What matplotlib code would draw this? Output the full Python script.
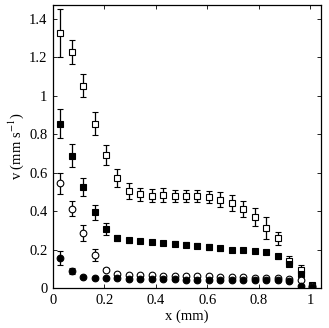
import matplotlib
matplotlib.use("Agg")
import matplotlib.pyplot as plt

x = [0.028, 0.073, 0.117, 0.162, 0.206, 0.251, 0.295, 0.340, 0.384, 0.429, 0.473, 0.518,
     0.562, 0.607, 0.651, 0.696, 0.740, 0.785, 0.829, 0.874, 0.918, 0.963, 1.007]

open_sq = [1.329, 1.229, 1.052, 0.855, 0.692, 0.574, 0.505, 0.487, 0.480, 0.484, 0.477, 0.477,
           0.477, 0.472, 0.460, 0.443, 0.411, 0.370, 0.313, 0.259, 0.143, 0.096, 0.015]
open_sq_err = [0.125, 0.064, 0.060, 0.059, 0.050, 0.046, 0.040, 0.035, 0.035, 0.035, 0.031, 0.031,
               0.031, 0.032, 0.040, 0.043, 0.040, 0.048, 0.058, 0.033, 0.026, 0.023, 0.010]

filled_sq = [0.855, 0.688, 0.526, 0.394, 0.307, 0.259, 0.248, 0.243, 0.240, 0.235, 0.231, 0.226,
             0.221, 0.214, 0.207, 0.200, 0.200, 0.191, 0.186, 0.164, 0.127, 0.074, 0.012]
filled_sq_err = [0.076, 0.060, 0.046, 0.038, 0.030, 0.015, 0.012, 0.010, 0.010, 0.012, 0.012, 0.012,
                 0.015, 0.014, 0.012, 0.010, 0.010, 0.010, 0.010, 0.012, 0.012, 0.020, 0.005]

open_ci = [0.546, 0.413, 0.287, 0.172, 0.096, 0.072, 0.068, 0.066, 0.065, 0.064, 0.063, 0.062,
           0.061, 0.060, 0.058, 0.056, 0.055, 0.054, 0.053, 0.052, 0.048, 0.041, 0.011]
open_ci_err = [0.055, 0.040, 0.042, 0.032, 0.010, 0.008, 0.006, 0.005, 0.005, 0.005, 0.005, 0.005,
               0.005, 0.005, 0.005, 0.005, 0.005, 0.005, 0.005, 0.005, 0.005, 0.005, 0.004]

filled_ci = [0.157, 0.089, 0.058, 0.053, 0.053, 0.050, 0.049, 0.048, 0.047, 0.046, 0.045, 0.044,
             0.043, 0.043, 0.042, 0.041, 0.041, 0.040, 0.040, 0.039, 0.036, 0.012, 0.004]
filled_ci_err = [0.035, 0.017, 0.006, 0.005, 0.005, 0.005, 0.005, 0.005, 0.005, 0.005, 0.005, 0.005,
                 0.005, 0.005, 0.005, 0.005, 0.005, 0.005, 0.005, 0.005, 0.005, 0.005, 0.003]

xticks = [0, 0.2, 0.4, 0.6, 0.8, 1]
xticklabels = ["0", "0.2", "0.4", "0.6", "0.8", "1"]
yticks = [0, 0.2, 0.4, 0.6, 0.8, 1, 1.2, 1.4]
yticklabels = ["0", "0.2", "0.4", "0.6", "0.8", "1", "1.2", "1.4"]

plt.rcParams['font.family'] = ['Liberation Serif', 'DejaVu Serif']
plt.rcParams['mathtext.fontset'] = 'stix'

fig = plt.figure(figsize=(3.29, 3.28), dpi=100)
ax = fig.add_axes([0.161, 0.122, 0.815, 0.864])

common = dict(ecolor='black', elinewidth=0.9, capsize=2.5, capthick=0.9, linestyle='none',
              markeredgecolor='black', markeredgewidth=0.8)
ax.errorbar(x, open_sq, yerr=open_sq_err, marker='s', markersize=4.3, markerfacecolor='white', **common)
ax.errorbar(x, filled_sq, yerr=filled_sq_err, marker='s', markersize=4.3, markerfacecolor='black', **common)
ax.errorbar(x, open_ci, yerr=open_ci_err, marker='o', markersize=4.8, markerfacecolor='white', **common)
ax.errorbar(x, filled_ci, yerr=filled_ci_err, marker='o', markersize=4.8, markerfacecolor='black', **common)

ax.set_xlim(0, 1.043)
ax.set_ylim(0, 1.475)
ax.set_xticks(xticks)
ax.set_xticklabels(xticklabels)
ax.set_yticks(yticks)
ax.set_yticklabels(yticklabels)
ax.tick_params(direction='in', top=True, right=True, length=3, width=0.6, labelsize=10.5, pad=4)
for s in ax.spines.values():
    s.set_linewidth(0.9)

ax.set_xlabel("x (mm)", fontsize=10.5, labelpad=2)
ax.set_ylabel("v (mm s$^{-1}$)", fontsize=10.5, labelpad=2)

fig.savefig("out.png", dpi=100)
